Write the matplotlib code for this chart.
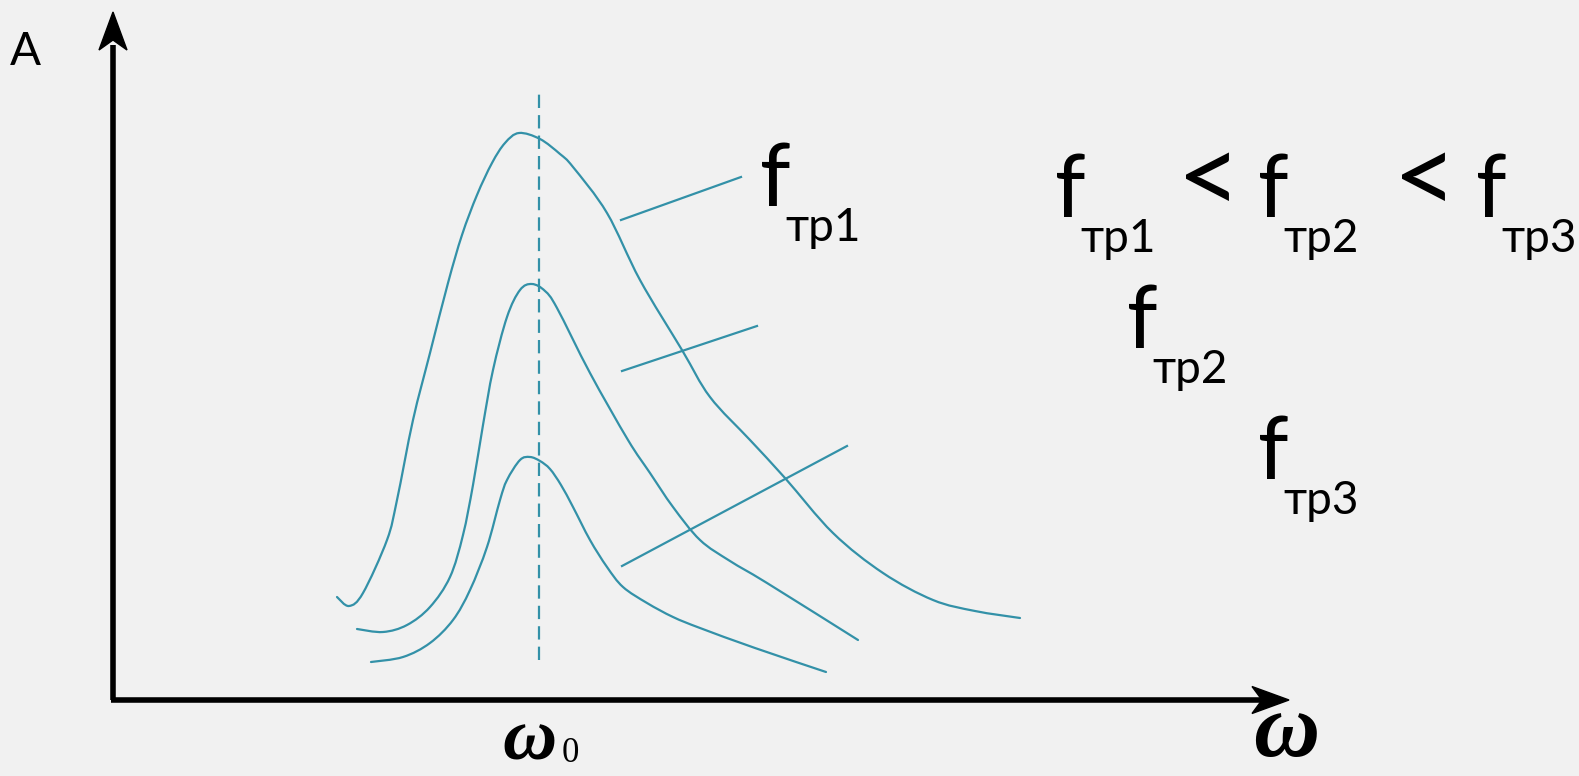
import matplotlib
matplotlib.use("Agg")
import matplotlib.pyplot as plt
from matplotlib.patches import Polygon, PathPatch
from matplotlib.path import Path

# ---- data (ω horizontal, A vertical; origin at the axes corner) ----
w1 = [224, 236, 250, 274, 284, 300, 317, 335, 349, 364, 379, 392, 406, 427, 447, 460,
      494, 527, 569, 597, 637, 672, 720, 770, 820, 862, 907]
A1 = [103, 94, 107, 160, 200, 280, 347, 417, 465, 505, 537, 557, 567, 561, 546, 533,
      487, 420, 350, 303, 260, 222, 167, 127, 100, 89, 82]

w2 = [244, 270, 294, 317, 337, 350, 360, 370, 380, 394, 407, 419, 432, 444, 477, 515,
      537, 560, 587, 617, 654, 745]
A2 = [71, 68, 75, 93, 123, 165, 215, 275, 330, 383, 410, 416, 409, 392, 327, 260,
      227, 193, 160, 139, 117, 60]

w3 = [258, 290, 317, 340, 357, 374, 387, 394, 407, 417, 427, 437, 448, 460, 477, 494,
      510, 534, 560, 587, 642, 713]
A3 = [38, 43, 57, 80, 110, 153, 200, 220, 240, 243, 239, 231, 215, 193, 160, 133,
      113, 97, 83, 72, 52, 28]

# leader lines (start/end in ω, A)
lead_w = [(508, 628), (509, 644), (509, 734)]
lead_A = [(480, 523), (329, 374), (134, 254)]

omega0 = 426
omega0_span = (40, 607)

sub_labels = ["тр1", "тр2", "тр3"]

# ---- styling ----
TEAL = "#3391a8"
BG = "#f1f1f1"
SANS = ["Lato", "Open Sans", "DejaVu Sans"]
SERIF = ["Liberation Serif", "DejaVu Serif"]

fig = plt.figure(figsize=(15.79, 7.76), dpi=100, facecolor=BG)
ax = fig.add_axes([0, 0, 1, 1])
ax.set_facecolor(BG)
ax.set_xlim(-113, 1466)
ax.set_ylim(-76, 700)
ax.axis("off")

# axes with arrow heads
ax.plot([0, 0], [0, 655], color="black", lw=4, solid_capstyle="butt", zorder=3)
ax.plot([-2, 1155], [0, 0], color="black", lw=4, solid_capstyle="butt", zorder=3)
ax.add_patch(Polygon([(0, 688), (14, 650), (0, 660), (-14, 650)], closed=True,
                     color="black", zorder=4))
ax.add_patch(Polygon([(1176, 0), (1139, 13.5), (1149, 0), (1139, -13.5)], closed=True,
                     color="black", zorder=4))


def smooth_path(xs, ys):
    """Cubic Bezier path through the read points (Catmull-Rom tangents)."""
    pts = list(zip(xs, ys))
    n = len(pts)
    verts = [pts[0]]
    codes = [Path.MOVETO]
    for i in range(n - 1):
        p0 = pts[i - 1] if i > 0 else pts[i]
        p1 = pts[i]
        p2 = pts[i + 1]
        p3 = pts[i + 2] if i + 2 < n else pts[i + 1]
        c1 = (p1[0] + (p2[0] - p0[0]) / 6.0, p1[1] + (p2[1] - p0[1]) / 6.0)
        c2 = (p2[0] - (p3[0] - p1[0]) / 6.0, p2[1] - (p3[1] - p1[1]) / 6.0)
        verts += [c1, c2, p2]
        codes += [Path.CURVE4] * 3
    return Path(verts, codes)


# curves
for w, A in [(w1, A1), (w2, A2), (w3, A3)]:
    ax.add_patch(PathPatch(smooth_path(w, A), facecolor="none", edgecolor=TEAL,
                           lw=1.6, capstyle="round", joinstyle="round"))

# dashed resonance line
ax.plot([omega0, omega0], omega0_span, color=TEAL, lw=1.6, linestyle=(0, (6, 3.2)))

# leader lines
for lw_, la_ in zip(lead_w, lead_A):
    ax.plot(lw_, la_, color=TEAL, lw=1.6)

BIG = 63
SMALL = 33


def flabel(x, y, sub):
    ax.text(x, y, "f", fontsize=BIG, family=SANS, ha="left", va="baseline", color="black")
    ax.text(x + 25, y - 35, sub, fontsize=SMALL, family=SANS, ha="left", va="baseline",
            color="black")


flabel(647, 494, sub_labels[0])
flabel(942, 483, sub_labels[0])
flabel(1145, 483, sub_labels[1])
flabel(1363, 483, sub_labels[2])
flabel(1014, 352, sub_labels[1])
flabel(1145, 221, sub_labels[2])

ax.text(1096, 517, "<", fontsize=80, family=SANS, ha="center", va="center")
ax.text(1312, 517, "<", fontsize=80, family=SANS, ha="center", va="center")

ax.text(-103, 635, "A", fontsize=33, family=SANS, ha="left", va="baseline")

ax.text(389, -75, "ω", fontsize=54, family=SERIF, style="italic", weight="bold",
        ha="left", va="bottom")
ax.text(449, -62, "0", fontsize=25, family=SERIF, ha="left", va="baseline")
ax.text(1140, -75, "ω", fontsize=66, family=SERIF, style="italic", weight="bold",
        ha="left", va="bottom")

fig.savefig("out.png", dpi=100, facecolor=BG)
